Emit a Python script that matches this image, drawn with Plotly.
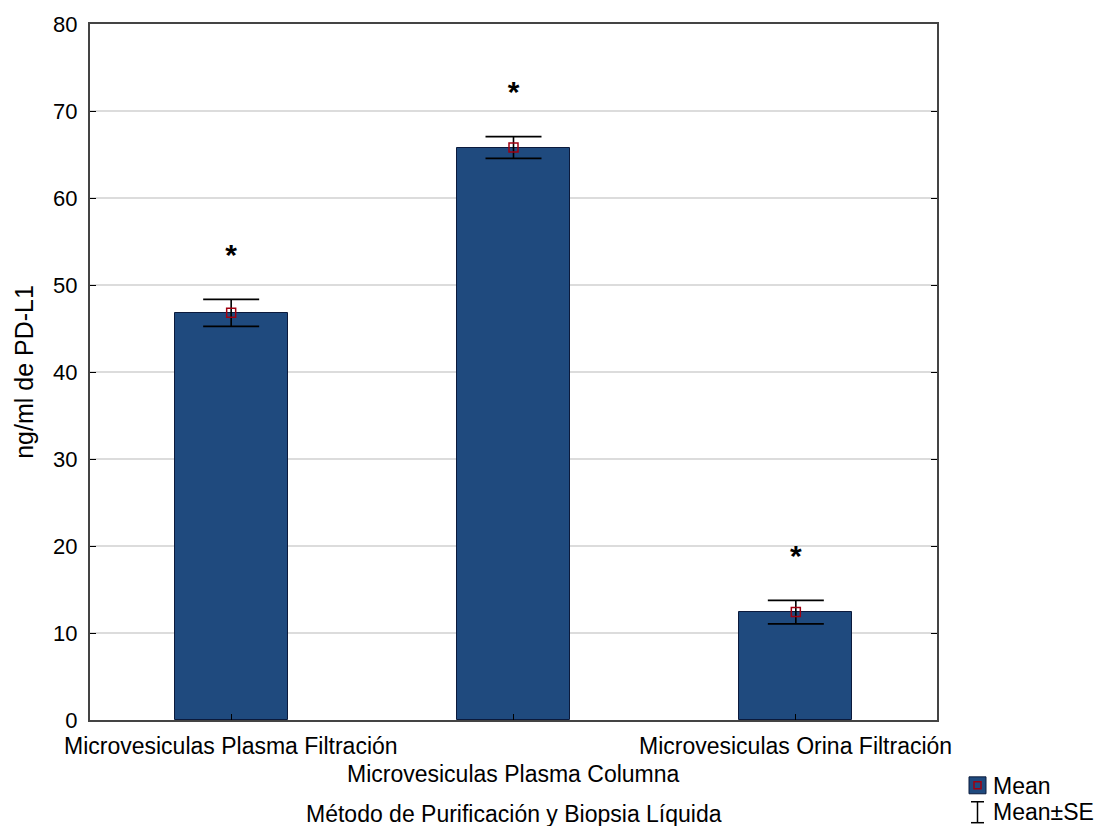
import plotly.graph_objects as go

# PD-L1 concentration by purification method / liquid biopsy
categories = [
    "Microvesiculas Plasma Filtración",
    "Microvesiculas Plasma Columna",
    "Microvesiculas Orina Filtración",
]
means = [46.8, 65.8, 12.4]
se = [1.55, 1.25, 1.35]
significant = [True, True, True]

y_ticks = [0, 10, 20, 30, 40, 50, 60, 70, 80]

BAR_COLOR = "#1f4a7e"
FONT = "Liberation Sans, Arial, sans-serif"
x_pos = list(range(len(categories)))

fig = go.Figure()

fig.add_trace(go.Bar(
    x=x_pos, y=means, width=0.4,
    marker=dict(color=BAR_COLOR, line=dict(color="#0b1a3c", width=1)),
    showlegend=False, hoverinfo="skip",
))

fig.add_trace(go.Scatter(
    x=x_pos, y=means, mode="markers",
    marker=dict(symbol="square-open", size=9, color="#a00010", line=dict(width=1.5)),
    error_y=dict(type="data", array=se, visible=True, color="#000000",
                 thickness=1.6, width=28),
    showlegend=False, hoverinfo="skip",
))

# significance asterisks above each error bar
star_x = [x for x, s in zip(x_pos, significant) if s]
star_y = [m + e + 4.8 for m, e, s in zip(means, se, significant) if s]
fig.add_trace(go.Scatter(
    x=star_x, y=star_y, mode="text", text=["<b>*</b>"] * len(star_x),
    textfont=dict(size=30, color="#000000", family=FONT),
    textposition="middle center", showlegend=False, hoverinfo="skip",
))

# category labels, middle one dropped to a second row
annotations = []
for i, cat in enumerate(categories):
    annotations.append(dict(
        x=i, xref="x", y=0, yref="paper", text=cat, showarrow=False,
        yanchor="top", yshift=-11 if i % 2 == 0 else -39,
        font=dict(size=23, color="#000000", family=FONT),
    ))

annotations.append(dict(
    x=0.5, xref="paper", y=0, yref="paper", yshift=-79, yanchor="top",
    text="Método de Purificación y Biopsia Líquida", showarrow=False,
    font=dict(size=23, color="#000000", family=FONT),
))

# legend block
annotations += [
    dict(x=991, y=786, xref="paper", yref="paper", text="Mean", showarrow=False,
         xanchor="left", yanchor="middle", font=dict(size=23, color="#000000", family=FONT)),
    dict(x=991, y=812, xref="paper", yref="paper", text="Mean±SE", showarrow=False,
         xanchor="left", yanchor="middle", font=dict(size=23, color="#000000", family=FONT)),
]
W, H = 1097, 826
ml, mr, mt, mb = 90, 160, 22, 106
pw, ph = W - ml - mr, H - mt - mb


def px(x):
    return (x - ml) / pw


def py(y):
    return 1 - (y - mt) / ph


for a in annotations[-2:]:
    a["x"] = px(a["x"])
    a["y"] = py(a["y"])

shapes = [
    dict(type="rect", xref="paper", yref="paper", x0=px(969), x1=px(986), y0=py(777), y1=py(794),
         fillcolor=BAR_COLOR, line=dict(color="#0b1a3c", width=1)),
    dict(type="rect", xref="paper", yref="paper", x0=px(974), x1=px(981), y0=py(782), y1=py(789),
         fillcolor="rgba(0,0,0,0)", line=dict(color="#a00010", width=1.5)),
    dict(type="line", xref="paper", yref="paper", x0=px(977.5), x1=px(977.5), y0=py(802), y1=py(823),
         line=dict(color="#000000", width=1.5)),
    dict(type="line", xref="paper", yref="paper", x0=px(971), x1=px(984), y0=py(802), y1=py(802),
         line=dict(color="#000000", width=1.5)),
    dict(type="line", xref="paper", yref="paper", x0=px(971), x1=px(984), y0=py(823), y1=py(823),
         line=dict(color="#000000", width=1.5)),
]

fig.update_layout(
    width=W, height=H,
    margin=dict(l=ml, r=mr, t=mt, b=mb, pad=0),
    paper_bgcolor="white", plot_bgcolor="white",
    font=dict(family=FONT, color="#000000"),
    annotations=annotations, shapes=shapes,
    bargap=0,
)
fig.update_xaxes(
    range=[-0.5, 2.5], tickvals=x_pos, ticktext=[""] * len(x_pos),
    ticks="inside", ticklen=6, tickcolor="#000000",
    showline=True, linecolor="#444444", linewidth=2, mirror=True,
    showgrid=False, zeroline=False,
)
fig.update_yaxes(
    range=[0, 80], tickvals=y_ticks,
    ticks="inside", ticklen=6, tickcolor="#000000",
    showline=True, linecolor="#444444", linewidth=2, mirror="allticks",
    showgrid=True, gridcolor="#dcdcdc", gridwidth=1.5, zeroline=False,
    ticklabelstandoff=6,
    tickfont=dict(size=22, color="#000000", family=FONT),
    title=dict(text="ng/ml de PD-L1", font=dict(size=25, color="#000000", family=FONT), standoff=12),
)

fig.write_html("out.html")
